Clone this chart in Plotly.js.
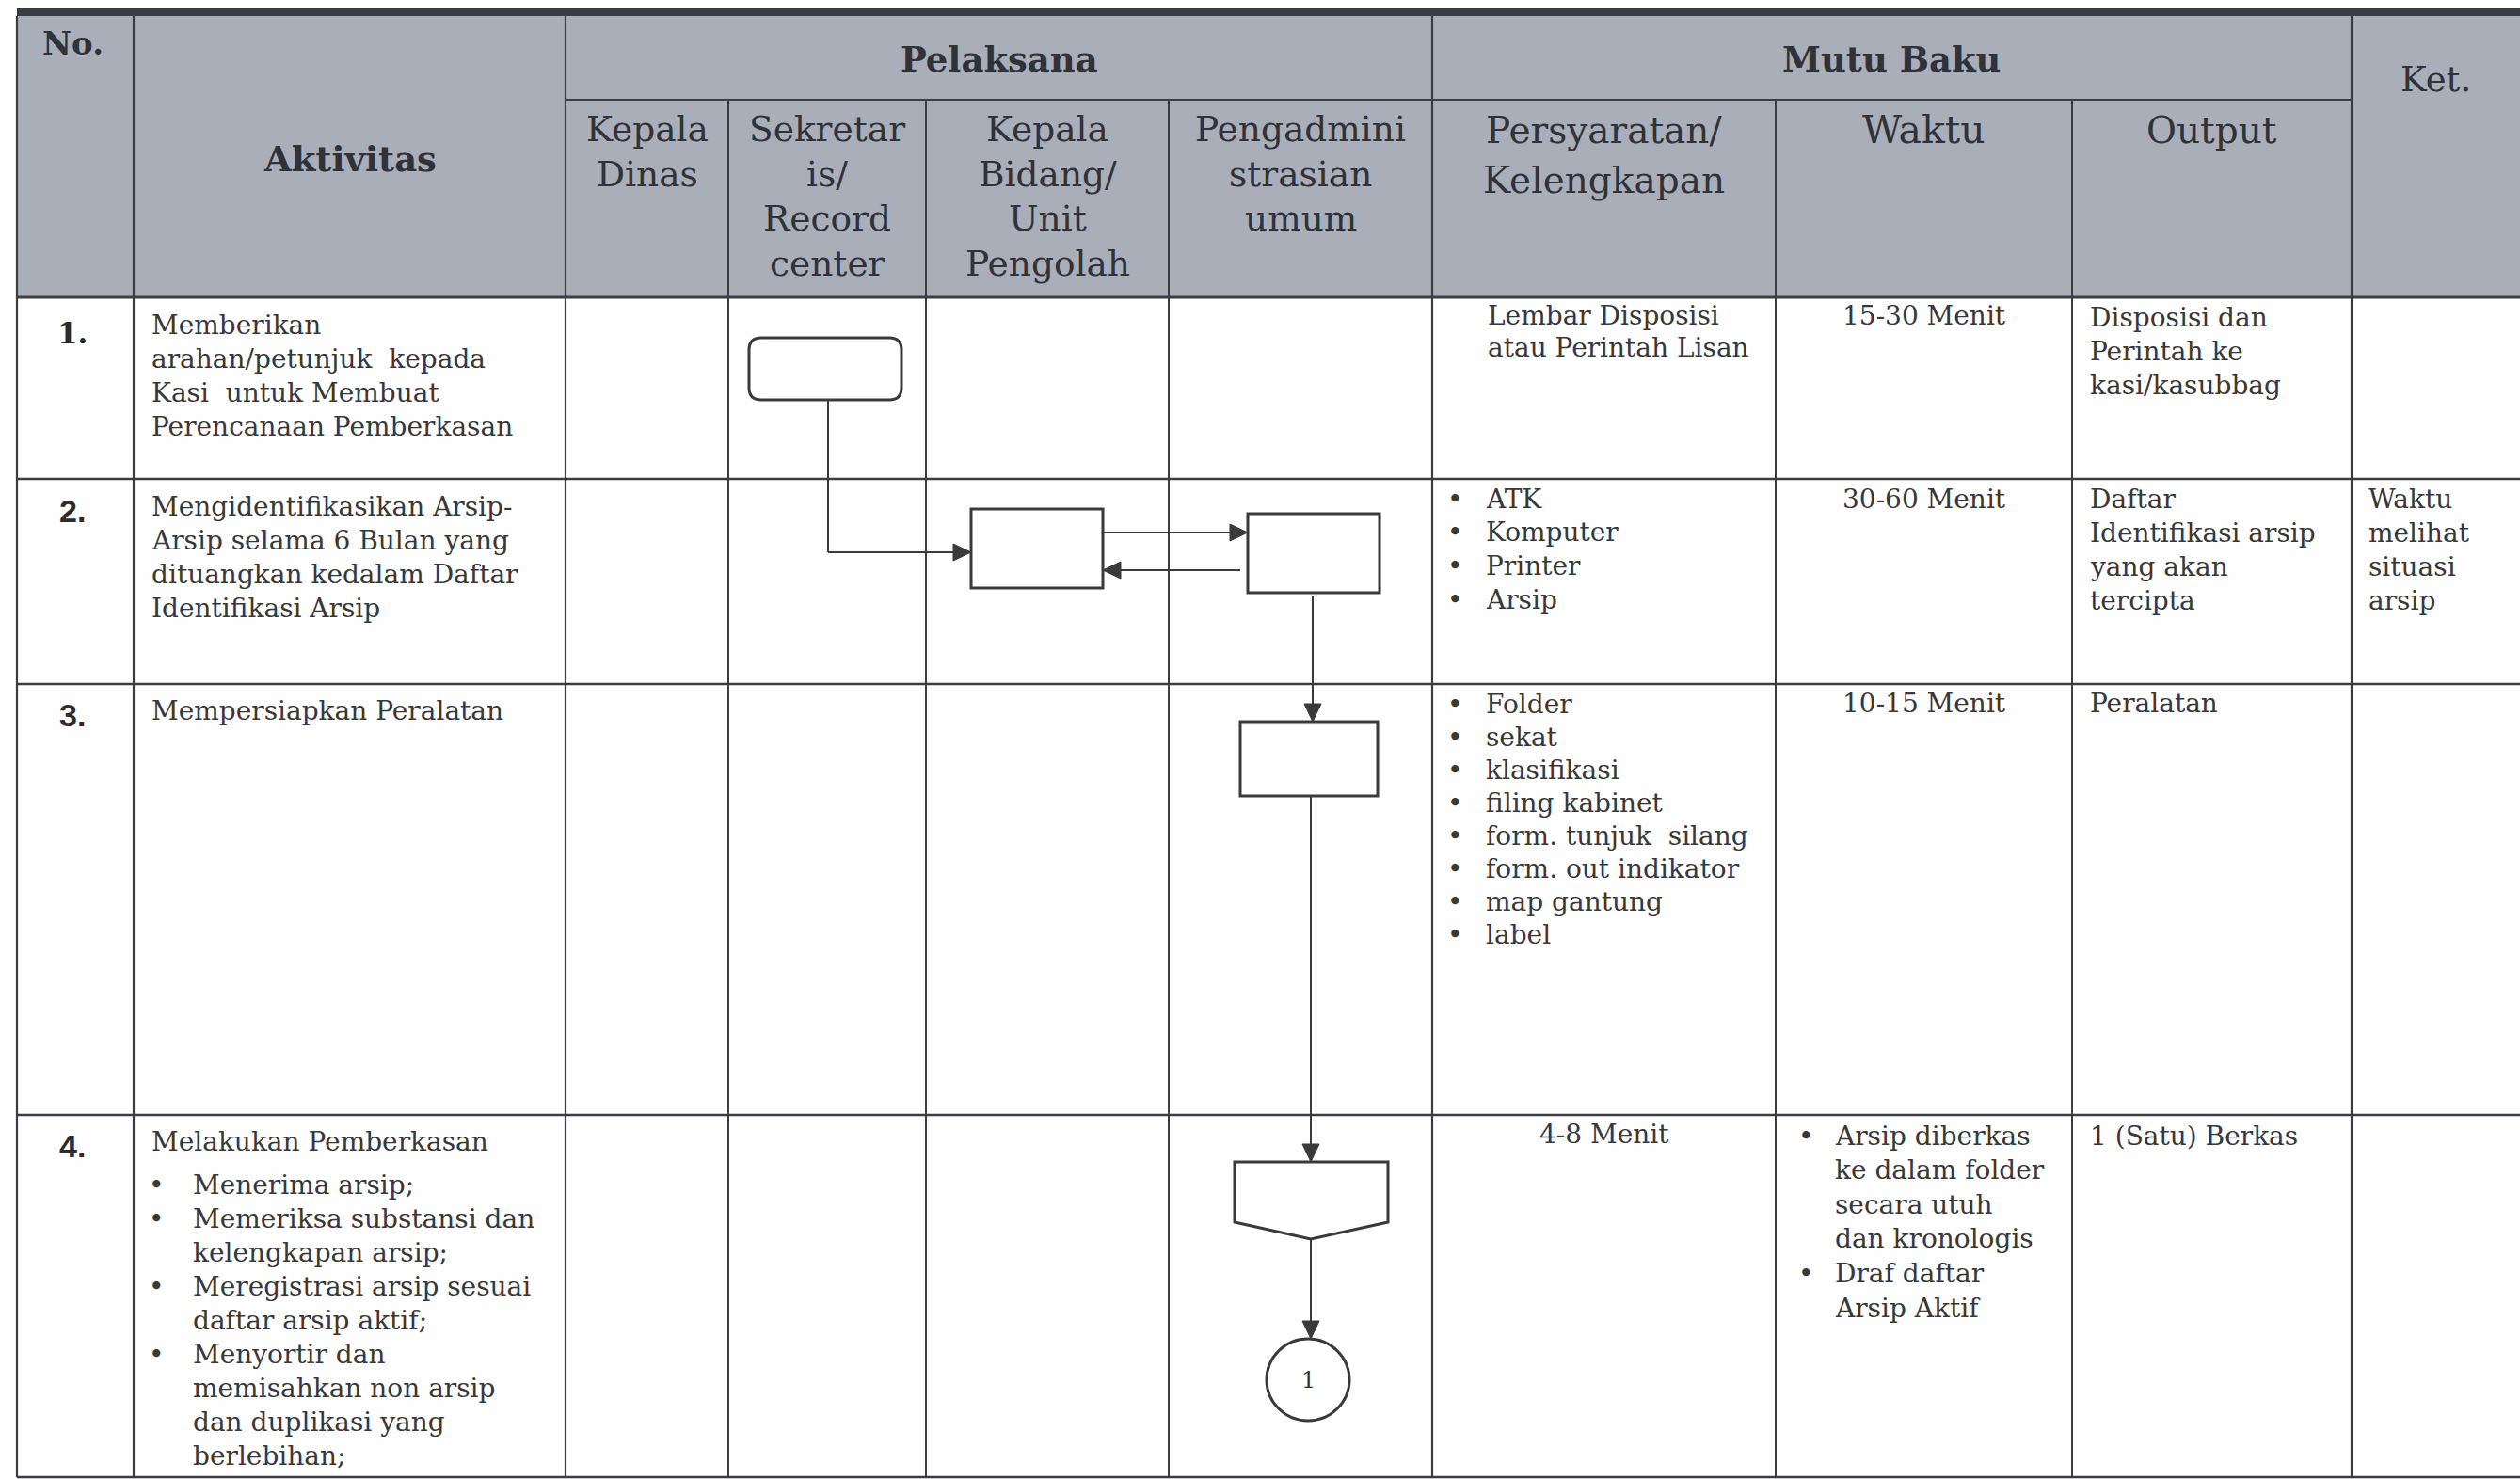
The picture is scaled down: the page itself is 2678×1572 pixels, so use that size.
<!DOCTYPE html>
<html>
<head>
<meta charset="utf-8">
<script src="https://cdn.plot.ly/plotly-3.0.1.min.js"></script>
<style>html,body{margin:0;padding:0;background:#fefefe;}#chart{width:2678px;height:1572px;}</style>
</head>
<body>
<div id="chart"></div>
<script>
// ---------------- DATA (text content of the table) ----------------
const headerSingles = ['No.', 'Aktivitas', 'Ket.'];
const headerGroups = ['Pelaksana', 'Mutu Baku'];
const pelaksanaRoles = [
  ['Kepala', 'Dinas'],
  ['Sekretar', 'is/', 'Record', 'center'],
  ['Kepala', 'Bidang/', 'Unit', 'Pengolah'],
  ['Pengadmini', 'strasian', 'umum']
];
const mutuBakuCols = [['Persyaratan/', 'Kelengkapan'], ['Waktu'], ['Output']];
const stepNumbers = ['1.', '2.', '3.', '4.'];
const activityLines = [
  ['Memberikan', 'arahan/petunjuk  kepada', 'Kasi  untuk Membuat', 'Perencanaan Pemberkasan'],
  ['Mengidentifikasikan Arsip-', 'Arsip selama 6 Bulan yang', 'dituangkan kedalam Daftar', 'Identifikasi Arsip'],
  ['Mempersiapkan Peralatan'],
  ['Melakukan Pemberkasan']
];
const activity4Bullets = [
  ['Menerima arsip;'],
  ['Memeriksa substansi dan', 'kelengkapan arsip;'],
  ['Meregistrasi arsip sesuai', 'daftar arsip aktif;'],
  ['Menyortir dan', 'memisahkan non arsip', 'dan duplikasi yang', 'berlebihan;']
];
const requirementRow1 = ['Lembar Disposisi', 'atau Perintah Lisan'];
const requirementRow2 = ['ATK', 'Komputer', 'Printer', 'Arsip'];
const requirementRow3 = ['Folder', 'sekat', 'klasifikasi', 'filing kabinet', 'form. tunjuk  silang', 'form. out indikator', 'map gantung', 'label'];
const requirementRow4 = ['4-8 Menit'];
const timeRows = ['15-30 Menit', '30-60 Menit', '10-15 Menit'];
const timeRow4Bullets = [['Arsip diberkas', 'ke dalam folder', 'secara utuh', 'dan kronologis'], ['Draf daftar', 'Arsip Aktif']];
const outputRows = [
  ['Disposisi dan', 'Perintah ke', 'kasi/kasubbag'],
  ['Daftar', 'Identifikasi arsip', 'yang akan', 'tercipta'],
  ['Peralatan'],
  ['1 (Satu) Berkas']
];
const ketRows = [[], ['Waktu', 'melihat', 'situasi', 'arsip'], [], []];
const connectorLabel = '1';

// ---------------- LAYOUT GEOMETRY (positions, sizes, styles) ----------------
const W = 2678, H = 1572;
const COL = [18, 142, 601, 774, 984, 1242, 1522, 1887, 2202, 2499, 2678];
const TOP_RULE = [9, 17];
const HDR_MID = 106, HDR_BOT = 316;
const ROW = [316, 509, 727, 1185, 1570];
const HDR_FILL = '#aaaeb9';
const GRID = '#3c3d42';
const INK = '#383838';
const HINK = '#30323a';
const SERIF = 'DejaVu Serif, Liberation Serif, serif';
const SANS = 'Liberation Sans, Arial, sans-serif';
const BODY = 28;
const LS = 36;
const MUTU_SIZES = [39, 41, 39];

const shapes = [];
const annotations = [];

function rect(x0, y0, x1, y1, fill, lineColor, lw, layer) {
  shapes.push({type: 'rect', xref: 'x', yref: 'y', x0, y0, x1, y1, fillcolor: fill,
    line: {color: lineColor || 'rgba(0,0,0,0)', width: lw || 0}, layer: layer || 'below'});
}
function seg(x0, y0, x1, y1, color, w) {
  shapes.push({type: 'line', xref: 'x', yref: 'y', x0, y0, x1, y1, line: {color, width: w}, layer: 'above'});
}
function path(d, fill, color, w) {
  shapes.push({type: 'path', xref: 'x', yref: 'y', path: d, fillcolor: fill,
    line: {color: color, width: w}, layer: 'above'});
}
function txt(t, x, y, o) {
  o = o || {};
  annotations.push({x, y, xref: 'x', yref: 'y', text: t, showarrow: false,
    xanchor: o.anchor || 'left', yanchor: 'middle',
    font: {family: o.family || SERIF, size: o.size || BODY, color: o.color || INK}});
}
function lines(arr, x, y0, dy, o) {
  arr.forEach((t, i) => txt(t, x, y0 + i * dy, o));
}
function bullets(groups, bx, tx, y0, dy, o) {
  let k = 0;
  groups.forEach(g => {
    const items = Array.isArray(g) ? g : [g];
    txt('•', bx, y0 + k * dy, Object.assign({}, o, {anchor: 'center', size: 28}));
    items.forEach(t => { txt(t, tx, y0 + k * dy, o); k++; });
  });
}

// header background + top rule
rect(COL[0], TOP_RULE[1], W, HDR_BOT, HDR_FILL);
rect(COL[0], TOP_RULE[0], W, TOP_RULE[1], '#3a3c43');

// grid: vertical lines
[COL[0], COL[1], COL[2], COL[6], COL[9]].forEach(x => seg(x, TOP_RULE[1], x, ROW[4], GRID, 2.2));
[COL[3], COL[4], COL[5], COL[7], COL[8]].forEach(x => seg(x, HDR_MID, x, ROW[4], GRID, 2));
// horizontal lines
seg(COL[2], HDR_MID, COL[9], HDR_MID, GRID, 2.2);
seg(COL[0], HDR_BOT, W, HDR_BOT, GRID, 3);
ROW.slice(1).forEach(y => seg(COL[0], y, W, y, GRID, 2.4));

// header texts
txt('<b>' + headerSingles[0] + '</b>', 77, 46, {anchor: 'center', size: 34, color: HINK});
txt('<b>' + headerSingles[1] + '</b>', (COL[1] + COL[2]) / 2, 169, {anchor: 'center', size: 37, color: HINK});
txt(headerSingles[2], (COL[9] + W) / 2, 84, {anchor: 'center', size: 37, color: HINK});
txt('<b>' + headerGroups[0] + '</b>', (COL[2] + COL[6]) / 2, 63, {anchor: 'center', size: 37, color: HINK});
txt('<b>' + headerGroups[1] + '</b>', (COL[6] + COL[9]) / 2, 63, {anchor: 'center', size: 37, color: HINK});
pelaksanaRoles.forEach((r, i) => lines(r, (COL[2 + i] + COL[3 + i]) / 2, 137, 47.7, {anchor: 'center', size: 37.5, color: HINK}));
mutuBakuCols.forEach((r, i) => lines(r, (COL[6 + i] + COL[7 + i]) / 2, 138, 53, {anchor: 'center', size: MUTU_SIZES[i], color: HINK}));

// step numbers
const numY = [354, 543, 760, 1218];
stepNumbers.forEach((n, i) => txt('<b>' + n + '</b>', 77, numY[i], {anchor: 'center',
  size: i === 0 ? 31 : 34, family: i === 0 ? 'DejaVu Serif' : SANS, color: '#2c2c2c'}));

// activity column
const actY = [345, 538, 755, 1213];
activityLines.forEach((a, i) => lines(a, 159, actY[i], LS, {}));
bullets(activity4Bullets, 166, 203, 1259, 36.1, {});

// Persyaratan column
lines(requirementRow1, 1579, 335, 34, {});
bullets(requirementRow2, 1546, 1577, 530, 35.7, {});
bullets(requirementRow3, 1546, 1577, 748, 35, {});
txt(requirementRow4[0], (COL[6] + COL[7]) / 2, 1205, {anchor: 'center'});

// Waktu column
const timeY = [335, 530, 747];
timeRows.forEach((t, i) => txt(t, (COL[7] + COL[8]) / 2, timeY[i], {anchor: 'center'}));
bullets(timeRow4Bullets, 1919, 1948, 1207, 36.6, {});

// Output column
const outY = [337, 530, 747, 1207];
outputRows.forEach((o, i) => lines(o, 2219, outY[i], LS, {}));

// Ket column
ketRows.forEach((k, i) => lines(k, 2515, [337, 530, 747, 1207][i], LS, {}));

// ---------------- FLOWCHART ----------------
const FL = '#3a3a3a';
const BOXW = 3;
// rounded terminator (row 1, Sekretaris lane)
(function () {
  const x0 = 796, x1 = 958, y0 = 359, y1 = 425, r = 13;
  path(`M ${x0 + r} ${y0} L ${x1 - r} ${y0} Q ${x1} ${y0} ${x1} ${y0 + r} L ${x1} ${y1 - r} Q ${x1} ${y1} ${x1 - r} ${y1} L ${x0 + r} ${y1} Q ${x0} ${y1} ${x0} ${y1 - r} L ${x0} ${y0 + r} Q ${x0} ${y0} ${x0 + r} ${y0} Z`, '#ffffff', FL, BOXW);
})();
// process boxes
rect(1032, 541, 1172, 625, '#ffffff', FL, BOXW, 'above');
rect(1326, 546, 1466, 630, '#ffffff', FL, BOXW, 'above');
rect(1318, 767, 1464, 846, '#ffffff', FL, BOXW, 'above');
// off-page connector (pentagon)
path('M 1312 1235 L 1475 1235 L 1475 1299 L 1393 1317 L 1312 1299 Z', '#ffffff', FL, BOXW);
// on-page connector circle
shapes.push({type: 'circle', xref: 'x', yref: 'y', x0: 1346, x1: 1434, y0: 1423, y1: 1510,
  fillcolor: '#ffffff', line: {color: FL, width: BOXW}, layer: 'above'});
txt(connectorLabel, 1390, 1467, {anchor: 'center', size: 24, color: '#333'});

// connector lines + arrowheads
function arrowR(tx, ty) { path(`M ${tx} ${ty} L ${tx - 19} ${ty - 9} L ${tx - 19} ${ty + 9} Z`, FL, FL, 1); }
function arrowL(tx, ty) { path(`M ${tx} ${ty} L ${tx + 19} ${ty - 9} L ${tx + 19} ${ty + 9} Z`, FL, FL, 1); }
function arrowD(tx, ty) { path(`M ${tx} ${ty} L ${tx - 9} ${ty - 19} L ${tx + 9} ${ty - 19} Z`, FL, FL, 1); }
const CW = 2;
seg(880, 425, 880, 587, FL, CW); seg(880, 587, 1015, 587, FL, CW); arrowR(1032, 587);
seg(1172, 566, 1310, 566, FL, CW); arrowR(1326, 566);
seg(1318, 606, 1190, 606, FL, CW); arrowL(1172, 606);
seg(1395, 634, 1395, 750, FL, CW); arrowD(1395, 767);
seg(1393, 846, 1393, 1218, FL, CW); arrowD(1393, 1235);
seg(1393, 1317, 1393, 1406, FL, CW); arrowD(1393, 1423);

const layout = {
  width: W, height: H,
  margin: {l: 0, r: 0, t: 0, b: 0, pad: 0},
  paper_bgcolor: '#fefefe', plot_bgcolor: '#fefefe',
  xaxis: {range: [0, W], visible: false, fixedrange: true},
  yaxis: {range: [H, 0], visible: false, fixedrange: true},
  showlegend: false,
  shapes, annotations
};
Plotly.newPlot('chart', [{type: 'scatter', x: [], y: [], hoverinfo: 'skip'}], layout, {displayModeBar: false, staticPlot: true});
</script>
</body>
</html>
